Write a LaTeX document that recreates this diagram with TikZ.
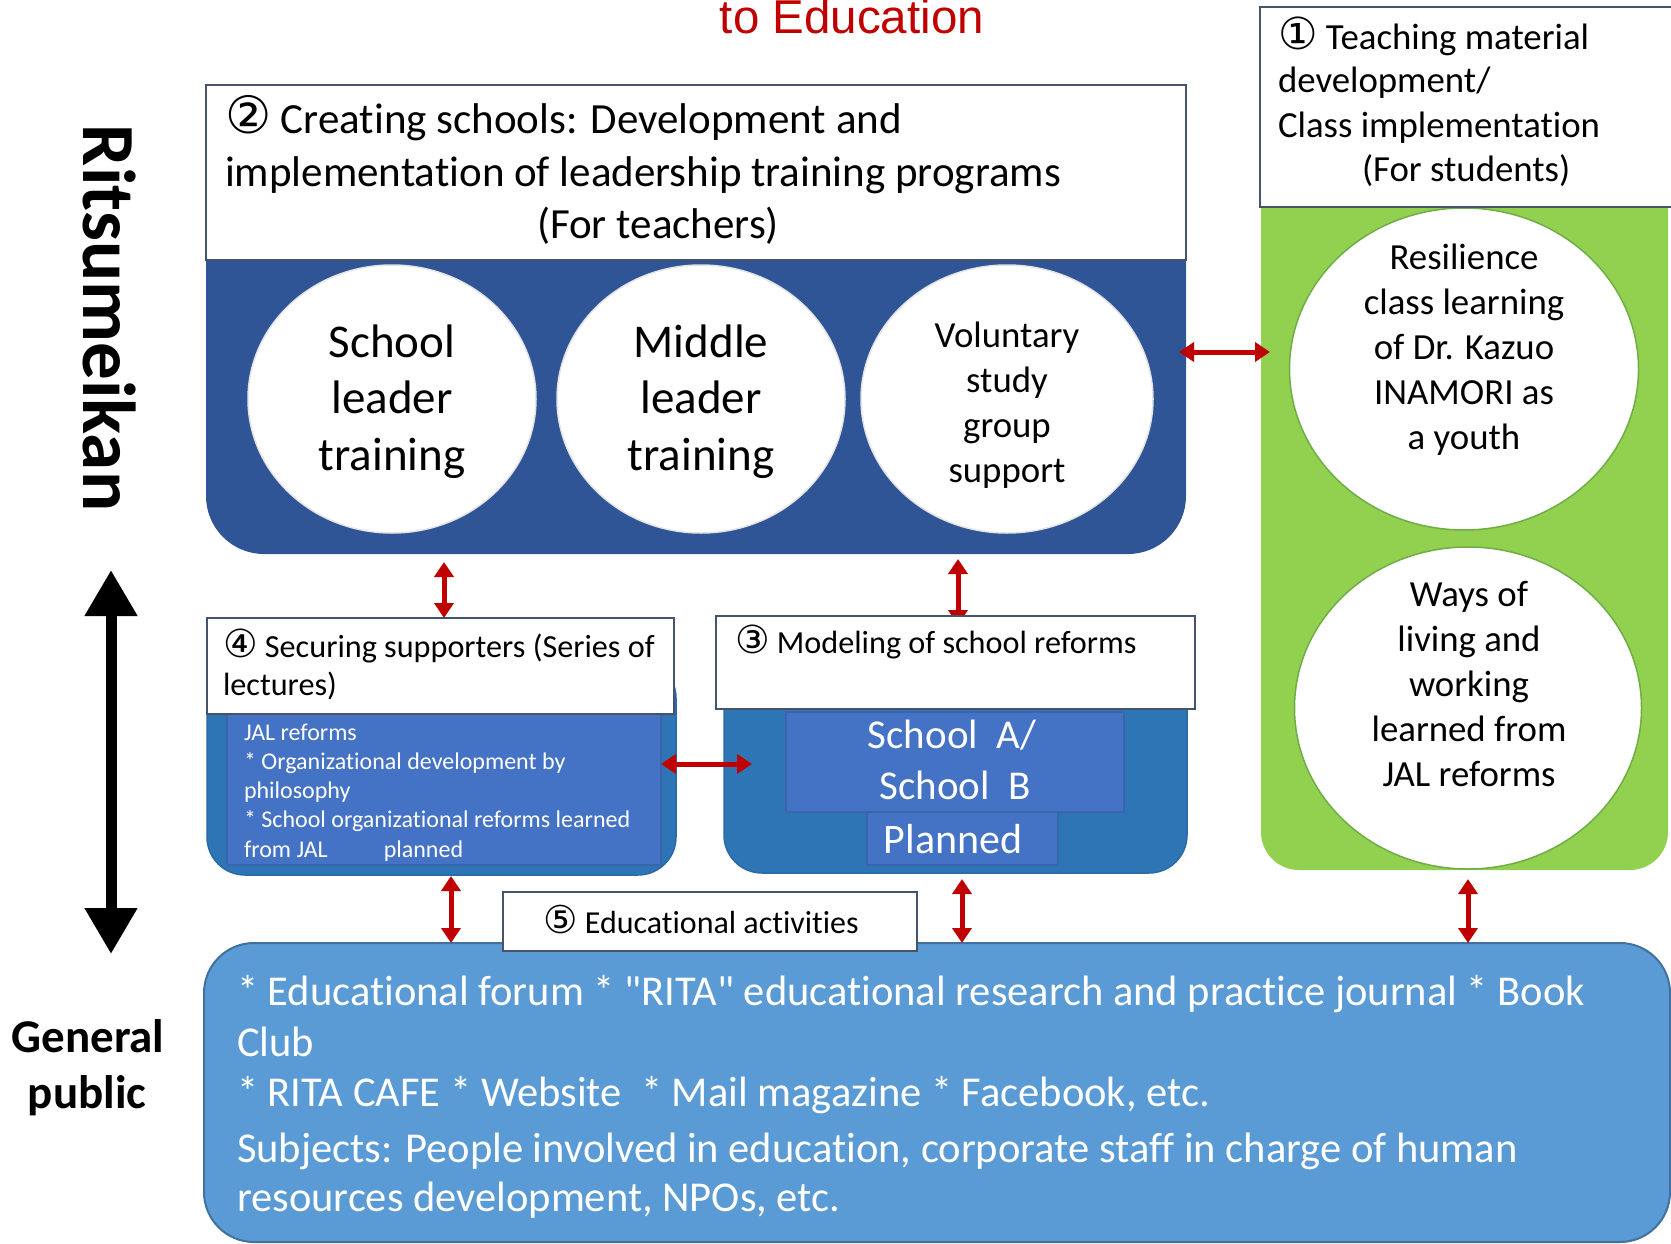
\documentclass[tikz,border=0pt]{standalone}
\usepackage{fontspec}
\setmainfont{Carlito}[Ligatures={NoCommon,TeXOff}]
\newfontfamily\symfont{DejaVu Sans}[Scale=1.2]
\newfontfamily\arialfont{Liberation Sans}
\usetikzlibrary{arrows.meta,shapes.geometric}
\definecolor{navy}{HTML}{2F5597}
\definecolor{midblue}{HTML}{2E75B6}
\definecolor{midline}{HTML}{2A6AA6}
\definecolor{innerblue}{HTML}{4472C4}
\definecolor{innerline}{HTML}{3B64AD}
\definecolor{botblue}{HTML}{5B9BD5}
\definecolor{botline}{HTML}{41719C}
\definecolor{leaf}{HTML}{92D050}
\definecolor{leafline}{HTML}{70AD47}
\definecolor{boxline}{HTML}{44546A}
\definecolor{titlered}{HTML}{C00000}
\definecolor{ellgray}{HTML}{E4E4E4}
\newcommand\myfs[2]{\fontsize{#1}{#2}\selectfont}
\pgfdeclarelayer{bg}
\pgfsetlayers{bg,main}
\tikzset{
  panel/.style={inner sep=0pt, outer sep=0pt},
  whitebox/.style={draw=boxline, line width=2.5pt, fill=white, inner sep=0pt, outer sep=0pt},
  txt/.style={inner sep=0pt, outer sep=0pt, text=black},
  wtxt/.style={inner sep=0pt, outer sep=0pt, text=white},
  ell/.style={ellipse, fill=white, inner sep=0pt, outer sep=0pt, line width=1.5pt},
  redarr/.style={draw=titlered, line width=5pt, {Triangle[width=19pt,length=15pt]}-{Triangle[width=19pt,length=15pt]}},
  blkarr/.style={draw=black, line width=11pt, {Triangle[width=50pt,length=46pt]}-{Triangle[width=50pt,length=46pt]}},
  bigtxt/.style={txt, anchor=base, font=\myfs{47}{57}},
  medtxt/.style={txt, font=\myfs{36.8}{45}},
  hdtxt/.style={txt, anchor=base west, font=\myfs{32.2}{38}},
  smtxt/.style={wtxt, anchor=base west, font=\myfs{24}{29}},
  bottxt/.style={wtxt, anchor=base west, font=\myfs{42.5}{51}}
}
\begin{document}
\begin{tikzpicture}[x=1pt,y=-1pt]
\useasboundingbox (0,0) rectangle (1671,1244);
\clip (0,0) rectangle (1671,1244);

% title
\node[txt, anchor=base, font=\arialfont\myfs{47.5}{50}, text=titlered] (title) at (852,34) {to Education};

% panels
\node[panel, fill=navy, rounded corners=58pt, minimum width=980pt, minimum height=354pt] (p2) at (696,377) {};
\node[panel, fill=midblue, draw=midline, line width=1.5pt, rounded corners=38pt, minimum width=469pt, minimum height=215pt] (p4) at (441.5,767.5) {};
\node[panel, fill=innerblue, draw=innerline, line width=1.5pt, minimum width=434pt, minimum height=153pt] (in4) at (444,788.5) {};
\node[panel, fill=midblue, draw=midline, line width=1.5pt, rounded corners=38pt, minimum width=463pt, minimum height=213pt] (p3) at (955.5,766.5) {};
\node[panel, fill=innerblue, draw=innerline, line width=1.5pt, minimum width=338pt, minimum height=100pt] (sab) at (955,762) {};
\node[panel, fill=innerblue, draw=innerline, line width=1.5pt, minimum width=191pt, minimum height=53pt] (pln) at (962.5,838.5) {};
\node[panel, fill=leaf, rounded corners=38pt, minimum width=407pt, minimum height=720pt] (pg) at (1464.5,510) {};
\node[panel, fill=botblue, draw=botline, line width=2pt, rounded corners=50pt, minimum width=1466pt, minimum height=299pt] (bot) at (937,1092.5) {};

% ellipses
\node[ell, draw=ellgray, minimum width=288pt, minimum height=268pt] (e1) at (392,399) {};
\node[ell, draw=ellgray, minimum width=288pt, minimum height=268pt] (e2) at (701,399) {};
\node[ell, draw=ellgray, minimum width=292pt, minimum height=268pt] (e3) at (1007,399) {};
\node[ell, draw=leafline, minimum width=349pt, minimum height=322pt] (g1) at (1464,369) {};
\node[ell, draw=leafline, minimum width=347pt, minimum height=322pt] (g2) at (1468,708) {};

% white heading boxes
\node[whitebox, minimum width=980pt, minimum height=175pt] (b2) at (696,172.5) {};
\node[whitebox, minimum width=467pt, minimum height=96pt] (b4) at (440.5,666) {};
\node[whitebox, minimum width=479pt, minimum height=93pt] (b3) at (955.5,662.5) {};
\node[whitebox, minimum width=440pt, minimum height=200pt] (b1) at (1480,107) {};
\node[whitebox, minimum width=414pt, minimum height=59pt] (b5) at (710,921.5) {};

% texts: box 2
\node[txt, anchor=base west, font=\myfs{43}{52}] (b2l1) at (225,134) {{\symfont ②} Creating schools: Development and};
\node[txt, anchor=base west, font=\myfs{43}{52}] (b2l2) at (225,186) {implementation of leadership training programs};
\node[txt, anchor=base, font=\myfs{43}{52}] (b2l3) at (658,238) {(For teachers)};

% circle texts
\node[bigtxt] (e1a) at (392,357) {School};
\node[bigtxt] (e1b) at (392,413) {leader};
\node[bigtxt] (e1c) at (392,470) {training};
\node[bigtxt] (e2a) at (701,357) {Middle};
\node[bigtxt] (e2b) at (701,413) {leader};
\node[bigtxt] (e2c) at (701,470) {training};
\node[medtxt, anchor=base] (e3a) at (1007,347) {Voluntary};
\node[medtxt, anchor=base] (e3b) at (1007,392) {study};
\node[medtxt, anchor=base] (e3c) at (1007,437) {group};
\node[medtxt, anchor=base] (e3d) at (1007,482) {support};

\node[medtxt, anchor=base] (g1a) at (1464,269) {Resilience};
\node[medtxt, anchor=base] (g1b) at (1464,314) {class learning};
\node[medtxt, anchor=base] (g1c) at (1464,359) {of Dr. Kazuo};
\node[medtxt, anchor=base] (g1d) at (1464,404) {INAMORI as};
\node[medtxt, anchor=base] (g1e) at (1464,449) {a youth};
\node[medtxt, anchor=base] (g2a) at (1469,606) {Ways of};
\node[medtxt, anchor=base] (g2b) at (1469,651) {living and};
\node[medtxt, anchor=base] (g2c) at (1469,696) {working};
\node[medtxt, anchor=base] (g2d) at (1469,741) {learned from};
\node[medtxt, anchor=base] (g2e) at (1469,786) {JAL reforms};

% box 1
\node[medtxt, anchor=base west] (b1a) at (1278,50) {{\symfont ①} Teaching material};
\node[medtxt, anchor=base west] (b1b) at (1278,93) {development/};
\node[medtxt, anchor=base west] (b1c) at (1278,138) {Class implementation};
\node[medtxt, anchor=base west] (b1d) at (1362,182) {(For students)};

% box 4
\node[hdtxt] (b4a) at (223,657) {{\symfont ④} Securing supporters (Series of};
\node[hdtxt] (b4b) at (223,695) {lectures)};
\node[smtxt] (i4a) at (244,740) {JAL reforms};
\node[smtxt] (i4b) at (244,769) {* Organizational development by};
\node[smtxt] (i4c) at (244,798) {philosophy};
\node[smtxt] (i4d) at (244,827) {* School organizational reforms learned};
\node[smtxt] (i4e) at (244,857) {from JAL\hspace*{56pt}planned};

% box 3
\node[hdtxt] (b3a) at (735,653) {{\symfont ③} Modeling of school reforms};
\node[wtxt, anchor=base, font=\myfs{41}{51}] (sa) at (952,748) {School~~A/};
\node[wtxt, anchor=base, font=\myfs{41}{51}] (sb) at (955,799) {School~~B};
\node[wtxt, anchor=base, font=\myfs{42}{51}] (pl) at (953,853) {Planned};

% box 5
\node[txt, anchor=base, font=\myfs{32}{38}] (b5a) at (701,933) {{\symfont ⑤} Educational activities};

% bottom box text
\node[bottxt] (bt1) at (237,1005) {* Educational forum * "RITA" educational research and practice journal * Book};
\node[bottxt] (bt2) at (237,1056) {Club};
\node[bottxt] (bt3) at (237,1106) {* RITA CAFE * Website~ * Mail magazine * Facebook, etc.};
\node[bottxt] (bt4) at (237,1162) {Subjects: People involved in education, corporate staff in charge of human};
\node[bottxt] (bt5) at (237,1211) {resources development, NPOs, etc.};

% side labels
\node[txt, rotate=-90, font=\bfseries\myfs{75}{80}] (rits) at (110,318) {Ritsumeikan};
\node[txt, anchor=base, font=\bfseries\myfs{47}{56}] (gp1) at (88,1052) {General};
\node[txt, anchor=base, font=\bfseries\myfs{47}{56}] (gp2) at (87,1108) {public};

% connectors
\coordinate (xa1) at (444,0);
\coordinate (xa2) at (958,0);
\coordinate (xa4) at (451,0);
\coordinate (xa5) at (962,0);
\coordinate (xa6) at (1468,0);
\coordinate (ya7) at (0,352);
\coordinate (a3e) at (752,764);
\coordinate (bk1) at (111,570);
\coordinate (bk2) at (111,954);

\draw[redarr, shorten <=8pt] (p2.south -| xa1) -- (b4.north -| xa1);
\begin{pgfonlayer}{bg}
\draw[redarr, shorten <=5pt, shorten >=-9pt] (p2.south -| xa2) -- (b3.north -| xa2);
\end{pgfonlayer}
\draw[redarr] (in4.east |- a3e) -- (a3e);
\draw[redarr, shorten <=-7pt, shorten >=-9pt] (p2.east |- ya7) -- (pg.west |- ya7);
\draw[redarr, shorten <=1pt] (p4.south -| xa4) -- (bot.north -| xa4);
\draw[redarr, shorten <=6pt] (p3.south -| xa5) -- (bot.north -| xa5);
\draw[redarr, shorten <=9pt] (pg.south -| xa6) -- (bot.north -| xa6);
\draw[blkarr] (bk1) -- (bk2);
\end{tikzpicture}
\end{document}
